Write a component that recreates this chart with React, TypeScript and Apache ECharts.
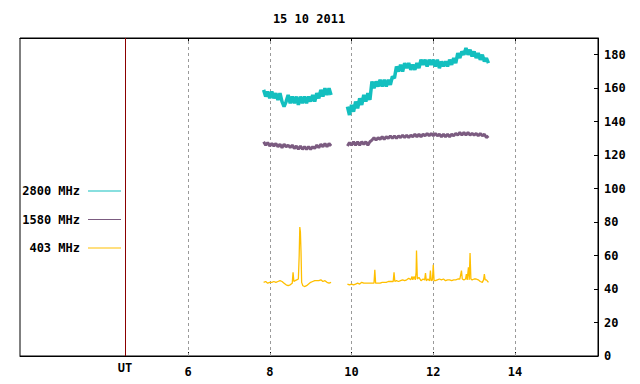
import React, { useEffect, useRef } from "react";
import * as echarts from "echarts";

const titleText = "15 10 2011";
const seriesNames = ["2800 MHz", "1580 MHz", "403 MHz"];
const seriesColors = ["#13bfbf", "#7b5b80", "#ffbf00"];
const xTickValues = [6, 8, 10, 12, 14];
const utPosition = 4.459;
const xMin = 1.89;
const xMax = 16.03;
const yMin = 0;
const yMax = 190;
const yInterval = 20;

const s2800a: [number, number][] = [
  [7.85, 159], [7.9, 155], [7.95, 158], [8.0, 154], [8.05, 158], [8.1, 154], [8.15, 157], [8.2, 153],
  [8.25, 157], [8.3, 152], [8.35, 149], [8.4, 152], [8.45, 156], [8.5, 151], [8.55, 155], [8.6, 151],
  [8.65, 155], [8.7, 150], [8.75, 155], [8.8, 151], [8.85, 155], [8.9, 151], [8.95, 155], [9.0, 152],
  [9.05, 156], [9.1, 152], [9.15, 157], [9.2, 154], [9.25, 159], [9.3, 155], [9.35, 160], [9.4, 156],
  [9.45, 160], [9.5, 156],
];
const s2800b: [number, number][] = [
  [9.9, 149], [9.95, 144], [10.0, 150], [10.05, 146], [10.1, 152], [10.15, 148], [10.2, 154], [10.25, 150],
  [10.3, 156], [10.35, 152], [10.4, 157], [10.45, 153], [10.5, 164], [10.55, 160], [10.6, 164], [10.65, 161],
  [10.7, 165], [10.75, 161], [10.8, 165], [10.85, 161], [10.9, 165], [10.95, 162], [11.0, 167], [11.05, 166],
  [11.1, 173], [11.15, 170], [11.2, 174], [11.25, 170], [11.3, 175], [11.35, 172], [11.4, 175], [11.45, 171],
  [11.5, 174], [11.55, 171], [11.6, 175], [11.65, 172], [11.7, 177], [11.75, 174], [11.8, 177], [11.85, 173],
  [11.9, 177], [11.95, 174], [12.0, 177], [12.05, 173], [12.1, 177], [12.15, 172], [12.2, 176], [12.25, 173],
  [12.3, 176], [12.35, 173], [12.4, 177], [12.45, 174], [12.5, 178], [12.55, 175], [12.6, 181], [12.65, 178],
  [12.7, 182], [12.75, 180], [12.8, 184], [12.85, 180], [12.9, 183], [12.95, 179], [13.0, 182], [13.05, 178],
  [13.1, 181], [13.15, 177], [13.2, 180], [13.25, 176], [13.3, 178], [13.35, 175],
];

const s1580a: [number, number][] = [
  [7.85, 128], [7.9, 126], [7.95, 127.5], [8.0, 125.5], [8.05, 127], [8.1, 125.5], [8.15, 127], [8.2, 125],
  [8.25, 126.5], [8.3, 124.5], [8.35, 126.5], [8.4, 125], [8.45, 126], [8.5, 124.5], [8.55, 126], [8.6, 124],
  [8.65, 125.5], [8.7, 123.5], [8.75, 125.5], [8.8, 123.5], [8.85, 125], [8.9, 123.5], [8.95, 125], [9.0, 123.5],
  [9.05, 125], [9.1, 124], [9.15, 126], [9.2, 124.5], [9.25, 126.5], [9.3, 125], [9.35, 127], [9.4, 125],
  [9.45, 127], [9.5, 125.5],
];
const s1580b: [number, number][] = [
  [9.9, 125.5], [9.95, 127.5], [10.0, 126], [10.05, 128], [10.1, 126], [10.15, 128], [10.2, 126], [10.25, 128],
  [10.3, 126.5], [10.35, 128], [10.4, 126], [10.45, 128], [10.5, 129], [10.55, 130.5], [10.6, 129], [10.65, 130.5],
  [10.7, 129.5], [10.75, 131], [10.8, 129.5], [10.85, 131], [10.9, 130], [10.95, 131.5], [11.0, 130], [11.05, 131.5],
  [11.1, 130], [11.15, 131.5], [11.2, 130.5], [11.25, 132], [11.3, 130.5], [11.35, 132], [11.4, 130.5], [11.45, 132],
  [11.5, 131], [11.55, 132.5], [11.6, 131], [11.65, 132.5], [11.7, 131], [11.75, 132.5], [11.8, 131.5], [11.85, 133],
  [11.9, 131.5], [11.95, 133], [12.0, 131.5], [12.05, 133], [12.1, 131.5], [12.15, 132.5], [12.2, 131], [12.25, 132.5],
  [12.3, 131], [12.35, 132.5], [12.4, 131], [12.45, 132.5], [12.5, 131.5], [12.55, 133], [12.6, 132], [12.65, 133.5],
  [12.7, 132], [12.75, 133.5], [12.8, 132], [12.85, 133.5], [12.9, 132], [12.95, 133], [13.0, 132], [13.05, 133],
  [13.1, 131.5], [13.15, 133], [13.2, 131.5], [13.25, 132.5], [13.3, 130.5], [13.35, 131.5],
];

const s403a: [number, number][] = [
  [7.85, 44], [7.9, 44.5], [7.95, 43.5], [8.0, 44], [8.05, 44], [8.1, 44.5], [8.15, 44], [8.2, 44.5],
  [8.25, 45], [8.3, 44.5], [8.35, 43.5], [8.4, 42.5], [8.45, 42], [8.5, 42.5], [8.55, 43.5], [8.57, 50],
  [8.59, 44.5], [8.62, 45], [8.66, 45.5], [8.7, 46], [8.72, 60], [8.735, 77], [8.75, 74], [8.765, 62],
  [8.78, 44], [8.81, 42], [8.85, 41.5], [8.9, 42], [8.95, 43], [9.0, 44], [9.05, 44.5], [9.1, 45],
  [9.15, 45], [9.2, 45], [9.25, 45.5], [9.3, 44.5], [9.35, 45], [9.4, 44], [9.45, 43.5], [9.5, 44],
];
const s403b: [number, number][] = [
  [9.9, 43], [9.95, 42.5], [10.0, 43], [10.05, 42.5], [10.1, 43], [10.15, 43.5], [10.2, 43], [10.25, 44],
  [10.3, 43.5], [10.35, 43.5], [10.4, 43.5], [10.45, 43.5], [10.5, 43.5], [10.55, 43.5], [10.57, 51.5], [10.59, 43.5],
  [10.65, 43.5], [10.7, 43.5], [10.75, 44], [10.8, 44], [10.85, 44], [10.9, 44.5], [10.95, 44.5], [11.0, 44.5],
  [11.02, 44.5], [11.04, 50], [11.06, 44.5], [11.1, 45], [11.15, 44.5], [11.2, 45], [11.25, 45.5], [11.3, 45],
  [11.35, 45.5], [11.4, 46.5], [11.45, 45.5], [11.48, 47.5], [11.5, 45.5], [11.53, 47.5], [11.56, 45.5], [11.58, 50],
  [11.59, 63], [11.61, 46], [11.65, 47], [11.7, 45], [11.75, 46], [11.79, 45.5], [11.81, 49.5], [11.83, 45],
  [11.87, 46], [11.91, 45], [11.93, 51], [11.95, 45], [11.98, 45.5], [12.0, 54.5], [12.02, 45], [12.05, 45],
  [12.1, 45.5], [12.15, 46], [12.2, 45.5], [12.25, 46], [12.3, 45], [12.35, 45.5], [12.4, 45.5], [12.45, 45],
  [12.5, 45.5], [12.55, 45.5], [12.6, 46], [12.65, 46], [12.69, 51], [12.71, 46], [12.75, 45.5], [12.79, 46],
  [12.81, 49], [12.83, 45.5], [12.86, 53], [12.88, 45.5], [12.9, 61.5], [12.92, 46], [12.95, 45.5], [13.0, 46],
  [13.05, 46], [13.1, 45.5], [13.15, 44.5], [13.2, 44], [13.23, 45.5], [13.25, 49], [13.27, 45.5], [13.3, 45.5],
  [13.35, 44],
];

const gapTime = 9.7;
const FONT = "DejaVu Sans Mono";

export default function App() {
  const ref = useRef<HTMLDivElement>(null);
  useEffect(() => {
    if (!ref.current) return;
    const chart = echarts.init(ref.current, undefined, { renderer: "svg" });
    const join = (a: [number, number][], b: [number, number][]) => [...a, [gapTime, "-"], ...b];
    const segs = [join(s2800a, s2800b), join(s1580a, s1580b), join(s403a, s403b)];
    const widths = [3.5, 3, 1.3];
    const textBase = { fontFamily: FONT, fontWeight: "bold" as const, fontSize: 12, color: "#000" };

    chart.setOption({
      animation: false,
      backgroundColor: "#fff",
      grid: {
        left: 20,
        right: 42,
        top: 38,
        bottom: 28,
        show: true,
        borderColor: "#000",
        borderWidth: 1,
        backgroundColor: "transparent",
      },
      graphic: [
        {
          type: "text",
          x: 309,
          y: 19,
          style: {
            text: titleText,
            fill: "#000",
            font: `bold 12px "${FONT}"`,
            textAlign: "center",
            textVerticalAlign: "middle",
          },
        },
      ],
      legend: {
        data: seriesNames,
        orient: "vertical",
        align: "right",
        right: 519,
        top: 184,
        padding: 0,
        icon: "rect",
        itemWidth: 33,
        itemHeight: 1,
        itemGap: 14.5,
        itemStyle: { borderWidth: 0 },
        textStyle: { ...textBase, lineHeight: 14, padding: [0, 3, 0, 0] },
        selectedMode: false,
      },
      xAxis: [
        {
          type: "value",
          position: "bottom",
          min: xMin,
          max: xMax,
          axisLine: { show: true, lineStyle: { color: "#000", width: 1 } },
          axisTick: { show: true, inside: true, length: 4, customValues: xTickValues, lineStyle: { color: "#000" } },
          axisLabel: {
            show: true,
            customValues: [utPosition, ...xTickValues],
            margin: 6,
            formatter: (v: number) => (Math.abs(v - utPosition) < 1e-6 ? "{ut|UT}" : `{n|${v}}`),
            rich: {
              ut: { ...textBase, padding: [0, 0, 0, 0] },
              n: { ...textBase, padding: [4, 0, 0, 0] },
            },
            ...textBase,
          },
          splitLine: { show: false },
        },
        {
          type: "value",
          position: "top",
          min: xMin,
          max: xMax,
          axisLine: { show: true, lineStyle: { color: "#000", width: 1 } },
          axisTick: { show: true, inside: true, length: 4, customValues: xTickValues, lineStyle: { color: "#000" } },
          axisLabel: { show: false },
          splitLine: { show: false },
        },
      ],
      yAxis: {
        type: "value",
        position: "right",
        min: yMin,
        max: yMax,
        interval: yInterval,
        axisLine: { show: true, lineStyle: { color: "#000", width: 1 } },
        axisTick: { show: true, inside: true, length: 4, lineStyle: { color: "#000" } },
        axisLabel: { ...textBase, margin: 6, showMaxLabel: false },
        splitLine: { show: false },
      },
      series: seriesNames.map((name, i) => ({
        name,
        type: "line",
        data: segs[i],
        showSymbol: false,
        symbol: "none",
        connectNulls: false,
        color: seriesColors[i],
        lineStyle: { color: seriesColors[i], width: widths[i], join: "bevel" },
        xAxisIndex: 0,
        yAxisIndex: 0,
        z: 3,
        silent: true,
        markLine:
          i === 0
            ? {
                silent: true,
                symbol: ["none", "none"],
                label: { show: false },
                z: 1,
                lineStyle: { color: "#9a9a9a", type: [3, 3], width: 1 },
                data: [
                  ...xTickValues.map((v) => ({ xAxis: v })),
                  { xAxis: utPosition, lineStyle: { color: "#8b0000", type: "solid", width: 1 } },
                ],
              }
            : undefined,
      })),
    });
    return () => chart.dispose();
  }, []);
  return <div ref={ref} style={{ width: 640, height: 384, position: "absolute", left: 0, top: 0 }} />;
}
